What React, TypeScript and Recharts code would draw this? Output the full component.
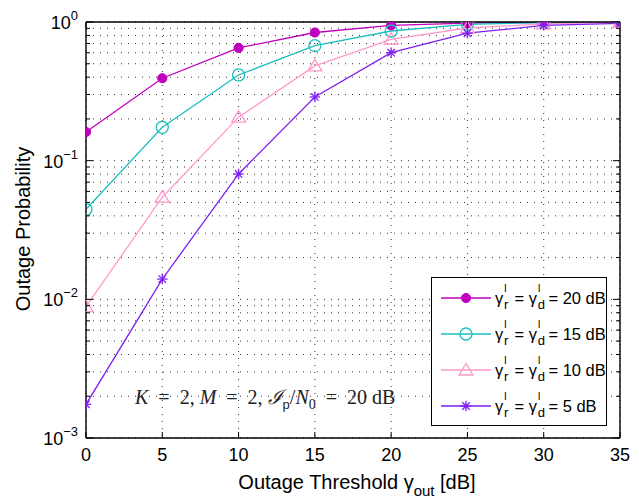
import React from 'react';
import { LineChart, Line, XAxis, YAxis, CartesianGrid, Legend, Label } from 'recharts';

const xValues = [0, 5, 10, 15, 20, 25, 30, 35];
const p20 = [0.161, 0.393, 0.65, 0.84, 0.946, 0.98, 0.995, 0.999];
const p15 = [0.0446, 0.174, 0.415, 0.675, 0.861, 0.962, 0.99, 0.998];
const p10 = [0.00886, 0.0545, 0.206, 0.482, 0.75, 0.905, 0.97, 0.995];
const p5 = [0.00175, 0.014, 0.0802, 0.288, 0.601, 0.83, 0.946, 0.978];

const xTicks = [0, 5, 10, 15, 20, 25, 30, 35];
const yDecades = [0.001, 0.01, 0.1, 1];
const yDecadeExponents = ['−3', '−2', '−1', '0'];
const yTicks = [
  0.001, 0.002, 0.003, 0.004, 0.005, 0.006, 0.007, 0.008, 0.009,
  0.01, 0.02, 0.03, 0.04, 0.05, 0.06, 0.07, 0.08, 0.09,
  0.1, 0.2, 0.3, 0.4, 0.5, 0.6, 0.7, 0.8, 0.9,
  1,
];

const seriesNames = ['20', '15', '10', '5'];
const seriesKeys = ['s20', 's15', 's10', 's5'];
const seriesColors = ['#BF00BF', '#1CBFBF', '#FF99CC', '#7F1FEF'];
const seriesMarkers = ['filled', 'circle', 'triangle', 'star'];

const rows = xValues.map((x, i) => ({ x, s20: p20[i], s15: p15[i], s10: p10[i], s5: p5[i] }));

const FONT = '"Liberation Sans", Arial, Helvetica, sans-serif';
const SERIF = '"Liberation Serif", "DejaVu Serif", serif';

function MarkerShape({ kind, color, cx, cy }: any) {
  if (kind === 'filled') return <circle cx={cx} cy={cy} r={4.6} fill={color} stroke={color} strokeWidth={1} />;
  if (kind === 'circle') return <circle cx={cx} cy={cy} r={6} fill="none" stroke={color} strokeWidth={1.3} />;
  if (kind === 'triangle')
    return (
      <polygon
        points={`${cx},${cy - 6.5} ${cx - 7},${cy + 5} ${cx + 7},${cy + 5}`}
        fill="none"
        stroke={color}
        strokeWidth={1.3}
      />
    );
  const r = 5.2;
  const d = 3.7;
  return (
    <g stroke={color} strokeWidth={1.3}>
      <line x1={cx - r} y1={cy} x2={cx + r} y2={cy} />
      <line x1={cx} y1={cy - r} x2={cx} y2={cy + r} />
      <line x1={cx - d} y1={cy - d} x2={cx + d} y2={cy + d} />
      <line x1={cx - d} y1={cy + d} x2={cx + d} y2={cy - d} />
    </g>
  );
}

const makeDot = (kind: string, color: string) => (props: any) => {
  const { cx, cy, index } = props;
  if (cx == null || cy == null) return <g key={`d-${index}`} />;
  return (
    <g key={`d-${kind}-${index}`}>
      <MarkerShape kind={kind} color={color} cx={cx} cy={cy} />
    </g>
  );
};

const BottomTick = (props: any) => {
  const { x, y, payload } = props;
  return (
    <g>
      <line x1={x} x2={x} y1={y} y2={y - 6} stroke="#000" strokeWidth={1} />
      <text x={x} y={y + 23} textAnchor="middle" fontSize={18} fontFamily={FONT} fill="#000">
        {payload.value}
      </text>
    </g>
  );
};

const TopTick = (props: any) => {
  const { x, y } = props;
  return <line x1={x} x2={x} y1={y} y2={y + 6} stroke="#000" strokeWidth={1} />;
};

const LeftTick = (props: any) => {
  const { x, y, payload } = props;
  const idx = yDecades.findIndex((d) => Math.abs(d - payload.value) < 1e-9);
  const major = idx >= 0;
  return (
    <g>
      <line x1={x} x2={x + (major ? 7 : 4)} y1={y} y2={y} stroke="#000" strokeWidth={1} />
      {major && (
        <text x={x - 8} y={y + 7} textAnchor="end" fontSize={18} fontFamily={FONT} fill="#000">
          <tspan>10</tspan>
          <tspan dy={-9} fontSize={13}>{yDecadeExponents[idx]}</tspan>
        </text>
      )}
    </g>
  );
};

const RightTick = (props: any) => {
  const { x, y, payload } = props;
  const major = yDecades.some((d) => Math.abs(d - payload.value) < 1e-9);
  return <line x1={x} x2={x - (major ? 7 : 4)} y1={y} y2={y} stroke="#000" strokeWidth={1} />;
};

const YLabelContent = (props: any) => {
  const vb = props.viewBox || { x: 0, y: 22, width: 86, height: 416 };
  const cx = 30;
  const cy = vb.y + vb.height / 2 - 1;
  return (
    <text
      x={cx}
      y={cy}
      textAnchor="middle"
      fontSize={20}
      fontFamily={FONT}
      fill="#000"
      transform={`rotate(-90 ${cx} ${cy})`}
    >
      Outage Probability
    </text>
  );
};

const XLabelContent = (props: any) => {
  const vb = props.viewBox || { x: 86, y: 438, width: 534, height: 65 };
  const cx = vb.x + vb.width / 2 + 4;
  return (
    <text x={cx} y={489} textAnchor="middle" fontSize={20} fontFamily={FONT} fill="#000">
      <tspan>Outage Threshold γ</tspan>
      <tspan dy={7} fontSize={15}>out</tspan>
      <tspan dy={-7}> [dB]</tspan>
    </text>
  );
};

function Gamma({ sub }: { sub: string }) {
  return (
    <span style={{ position: 'relative', display: 'inline-block', width: 15 }}>
      γ
      <span style={{ position: 'absolute', left: 9, top: -6, fontSize: 10 }}>I</span>
      <span style={{ position: 'absolute', left: 9, top: 8, fontSize: 13 }}>{sub}</span>
    </span>
  );
}

const LegendContent = () => (
  <div
    style={{
      boxSizing: 'border-box',
      width: 176,
      height: 149,
      border: '1px solid #000',
      background: '#fff',
      paddingTop: 2,
      fontFamily: FONT,
      fontSize: 16.5,
      color: '#000',
    }}
  >
    {seriesNames.map((name, i) => (
      <div key={name} style={{ display: 'flex', alignItems: 'center', height: 36, whiteSpace: 'nowrap' }}>
        <svg width={62} height={24} style={{ marginLeft: 9, flex: 'none' }}>
          <line x1={0} x2={50} y1={12} y2={12} stroke={seriesColors[i]} strokeWidth={1.3} />
          <MarkerShape kind={seriesMarkers[i]} color={seriesColors[i]} cx={25} cy={12} />
        </svg>
        <span style={{ marginLeft: -8 }}>
          <Gamma sub="r" /> = <Gamma sub="d" /> = {name} dB
        </span>
      </div>
    ))}
  </div>
);

const EQ = '\u2002=\u2002';

export default function App() {
  return (
    <div style={{ position: 'absolute', left: 0, top: 0, width: 639, height: 503, background: '#fff' }}>
      <LineChart width={639} height={503} data={rows} margin={{ top: 0, right: 0, bottom: 0, left: 0 }}>
        <CartesianGrid stroke="#333" strokeDasharray="1 6" strokeWidth={1} />
        <XAxis
          dataKey="x"
          type="number"
          domain={[0, 35]}
          ticks={xTicks}
          interval={0}
          height={65}
          tickSize={0}
          tickMargin={0}
          tickLine={false}
          axisLine={{ stroke: '#000', strokeWidth: 1.4 }}
          tick={BottomTick}
          allowDataOverflow
        >
          <Label content={XLabelContent} />
        </XAxis>
        <XAxis
          xAxisId="top"
          orientation="top"
          type="number"
          domain={[0, 35]}
          ticks={xTicks}
          interval={0}
          height={22}
          tickSize={0}
          tickMargin={0}
          tickLine={false}
          axisLine={{ stroke: '#000', strokeWidth: 1.4 }}
          tick={TopTick}
          allowDataOverflow
        />
        <YAxis
          type="number"
          scale="log"
          domain={[0.001, 1]}
          ticks={yTicks}
          interval={0}
          width={86}
          tickSize={0}
          tickMargin={0}
          tickLine={false}
          axisLine={{ stroke: '#000', strokeWidth: 1.4 }}
          tick={LeftTick}
          allowDataOverflow
        >
          <Label content={YLabelContent} />
        </YAxis>
        <YAxis
          yAxisId="right"
          orientation="right"
          type="number"
          scale="log"
          domain={[0.001, 1]}
          ticks={yTicks}
          interval={0}
          width={19}
          tickSize={0}
          tickMargin={0}
          tickLine={false}
          axisLine={{ stroke: '#000', strokeWidth: 1.4 }}
          tick={RightTick}
          allowDataOverflow
        />
        {seriesKeys.map((k, i) => (
          <Line
            key={k}
            dataKey={k}
            type="linear"
            stroke={seriesColors[i]}
            strokeWidth={1.3}
            dot={makeDot(seriesMarkers[i], seriesColors[i])}
            activeDot={false}
            isAnimationActive={false}
          />
        ))}
        <Legend
          layout="vertical"
          align="center"
          verticalAlign="middle"
          content={LegendContent}
          wrapperStyle={{ position: 'absolute', left: 431, top: 277, width: 176, height: 149 }}
        />
      </LineChart>
      <div
        style={{
          position: 'absolute',
          left: 135,
          top: 386,
          fontFamily: SERIF,
          fontSize: 20,
          color: '#222',
          whiteSpace: 'nowrap',
          lineHeight: '22px',
        }}
      >
        <i>K</i>{EQ}2, <i>M</i>{EQ}2, <i>ℐ</i>
        <sub style={{ fontFamily: FONT, fontSize: 13 }}>p</sub>/<i>N</i>
        <sub style={{ fontSize: 14 }}>0</sub>{EQ}20 dB
      </div>
    </div>
  );
}
